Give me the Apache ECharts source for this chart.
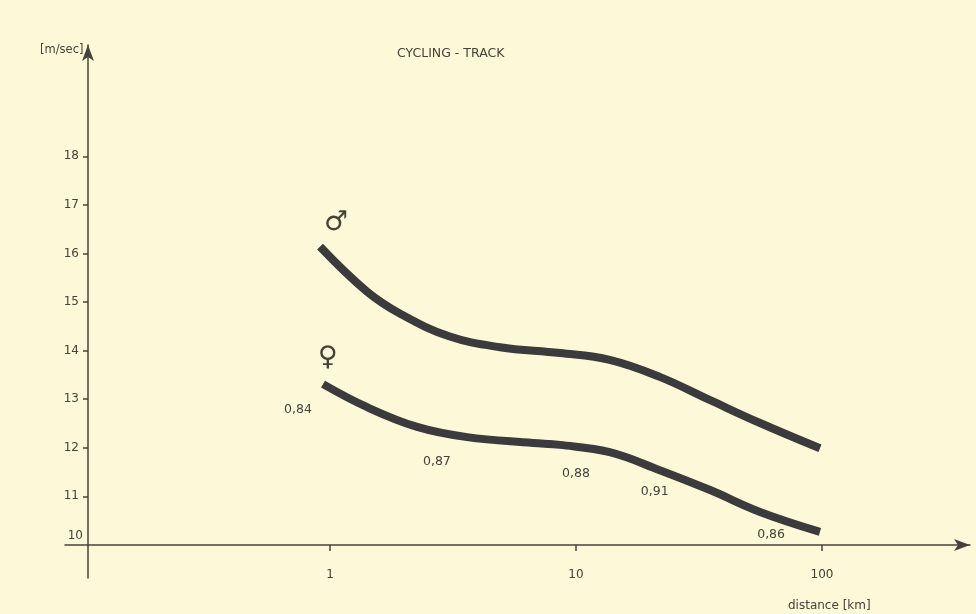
<!DOCTYPE html>
<html>
<head>
<meta charset="utf-8">
<script src="https://cdn.jsdelivr.net/npm/echarts@6/dist/echarts.min.js"></script>
<style>
html,body{margin:0;padding:0;background:#fdf9d8;}
#c{width:976px;height:614px;}
</style>
</head>
<body>
<div id="c"></div>
<script>
// distance [km] and speed [m/sec]
const maleDist = [0.911, 1.41, 1.93, 3.07, 4.91, 8.61, 13.7, 21.9, 35.1, 56.0, 98.1];
const maleSpeed = [16.14, 15.22, 14.76, 14.29, 14.07, 13.95, 13.81, 13.46, 12.98, 12.51, 11.99];
const femaleDist = [0.937, 1.41, 2.26, 3.61, 6.69, 8.61, 13.7, 21.9, 35.1, 56.0, 98.1];
const femaleSpeed = [13.31, 12.84, 12.43, 12.22, 12.10, 12.06, 11.91, 11.54, 11.13, 10.68, 10.27];
// ratio annotations
const ratioLabels = ['0,84', '0,87', '0,88', '0,91', '0,86'];
const ratioDist = [0.741, 2.72, 10.0, 20.9, 62.1];
const ratioSpeed = [12.78, 11.71, 11.46, 11.09, 10.21];
// sex symbols
const sexLabels = ['\u2642', '\u2640'];
const sexDist = [1.06, 0.98];
const sexSpeed = [16.62, 13.84];
// ticks
const xTicks = [1, 10, 100];
const yTicks = [10, 11, 12, 13, 14, 15, 16, 17, 18];
const yTickMarks = [11, 12, 13, 14, 15, 16, 17, 18];

const ink = '#45423b';
const lineInk = '#3b3a3c';
const font = 'DejaVu Sans';

const chart = echarts.init(document.getElementById('c'));
const zip = (a, b) => a.map((v, i) => [v, b[i]]);

chart.setOption({
  backgroundColor: '#fdf9d8',
  animation: false,
  title: [
    { text: 'CYCLING - TRACK', left: 392, top: 42,
      textStyle: { fontFamily: font, fontSize: 12.5, fontWeight: 'normal', color: ink } },
    { text: '[m/sec]', left: 35, top: 39,
      textStyle: { fontFamily: font, fontSize: 11.5, fontWeight: 'normal', color: ink } },
    { text: 'distance [km]', left: 783, top: 595,
      textStyle: { fontFamily: font, fontSize: 12, fontWeight: 'normal', color: ink } }
  ],
  grid: { left: 65, right: 6, top: 45, bottom: 36, containLabel: false },
  xAxis: {
    type: 'log', logBase: 10, min: 0.08372, max: 399.6,
    position: 'bottom', offset: -33,
    axisLine: { show: true, lineStyle: { color: ink, width: 1.5 }, symbol: ['none', 'arrow'], symbolSize: [9, 16] },
    axisTick: { show: true, length: 6, customValues: xTicks, lineStyle: { color: ink, width: 1.5 } },
    axisLabel: { show: true, customValues: xTicks, margin: 24, fontFamily: font, fontSize: 12, color: ink },
    splitLine: { show: false },
    minorTick: { show: false }
  },
  yAxis: {
    type: 'value', min: 9.32, max: 20.29,
    position: 'left', offset: -23,
    axisLine: { show: true, lineStyle: { color: ink, width: 1.5 }, symbol: ['none', 'arrow'], symbolSize: [9, 16] },
    axisTick: { show: true, length: 5, customValues: yTickMarks, lineStyle: { color: ink, width: 1.5 } },
    axisLabel: {
      show: true, customValues: yTicks, margin: 9, fontFamily: font, fontSize: 12, color: ink,
      formatter: v => v === 10 ? '{z|10}' : String(v),
      rich: { z: { fontFamily: font, fontSize: 12, color: ink, padding: [0, -4, 18, 0] } }
    },
    splitLine: { show: false }
  },
  series: [
    {
      name: 'male', type: 'line', smooth: 0.4, symbol: 'none',
      data: zip(maleDist, maleSpeed),
      lineStyle: { color: lineInk, width: 8, cap: 'butt', join: 'round' }
    },
    {
      name: 'female', type: 'line', smooth: 0.4, symbol: 'none',
      data: zip(femaleDist, femaleSpeed),
      lineStyle: { color: lineInk, width: 8, cap: 'butt', join: 'round' }
    },
    {
      name: 'ratio', type: 'scatter', symbolSize: 0,
      itemStyle: { opacity: 1 },
      data: ratioLabels.map((t, i) => ({ name: t, value: [ratioDist[i], ratioSpeed[i]] })),
      label: { show: true, position: 'inside', opacity: 1, formatter: p => p.name, fontFamily: font, fontSize: 12.5, color: ink }
    },
    {
      name: 'sex', type: 'scatter', symbolSize: 0,
      itemStyle: { opacity: 1 },
      data: sexLabels.map((t, i) => ({ name: t, value: [sexDist[i], sexSpeed[i]] })),
      label: { show: true, position: 'inside', opacity: 1, formatter: p => p.name, fontFamily: font, fontSize: 27, fontWeight: 'bold', color: ink }
    }
  ]
});
</script>
</body>
</html>
